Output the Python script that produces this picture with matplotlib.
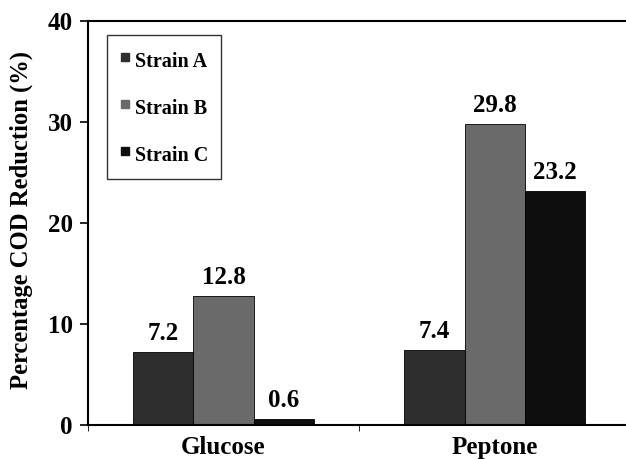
import numpy as np
import matplotlib
matplotlib.use("Agg")
import matplotlib.pyplot as plt
from matplotlib.ticker import FixedLocator
from matplotlib.lines import Line2D

plt.rcParams['font.family'] = ['Liberation Serif', 'DejaVu Serif']
plt.rcParams['font.weight'] = 'bold'

categories = ["Glucose", "Peptone"]
strains = ["Strain A", "Strain B", "Strain C"]
strain_a = [7.2, 7.4]
strain_b = [12.8, 29.8]
strain_c = [0.6, 23.2]
colors = ["#2e2e2e", "#6a6a6a", "#0e0e0e"]

fig = plt.figure(figsize=(6.26, 4.59), dpi=100)
ax = fig.add_axes([0.1406, 0.074, 0.866, 0.880])

x = np.arange(len(categories))
w = 0.222
series = [strain_a, strain_b, strain_c]
for i, (vals, lab, c) in enumerate(zip(series, strains, colors)):
    pos = x + (i - 1) * w
    ax.bar(pos, vals, w, color=c, edgecolor="black", linewidth=0.6, label=lab)
    for xp, v in zip(pos, vals):
        ax.text(xp, v + 0.7, "%.1f" % v, ha="center", va="bottom",
                fontsize=18, fontweight="bold")

ax.set_xlim(-0.5, 1.5)
ax.set_ylim(0, 40)
ax.set_yticks([0, 10, 20, 30, 40])
ax.set_xticks(x)
ax.set_xticklabels(categories, fontsize=18, fontweight="bold")
ax.tick_params(axis="x", length=0, pad=8)
ax.xaxis.set_minor_locator(FixedLocator([-0.5, 0.5]))
ax.tick_params(axis="x", which="minor", length=4, width=0.6)
ax.tick_params(axis="y", labelsize=18, length=6, width=1.2, pad=5)
for t in ax.get_yticklabels():
    t.set_fontweight("bold")
ax.set_ylabel("Percentage COD Reduction (%)", fontsize=17.7, fontweight="bold")
ax.yaxis.set_label_coords(-0.102, 0.507)

ax.spines["right"].set_visible(False)
for s in ["left", "bottom", "top"]:
    ax.spines[s].set_linewidth(1.5)

handles = [Line2D([], [], marker="s", color=c, linestyle="none", markersize=6,
                  markeredgecolor=c) for c in colors]
leg = ax.legend(handles, strains, loc="upper left", bbox_to_anchor=(0.035, 0.965),
                frameon=True, fancybox=False, edgecolor="black",
                handlelength=0.6, handleheight=1.6, handletextpad=0.2,
                labelspacing=1.04, borderpad=0.6, borderaxespad=0,
                prop={"size": 14.5, "weight": "bold"})
leg.get_frame().set_linewidth(1.0)

fig.savefig("out.png", dpi=100)
